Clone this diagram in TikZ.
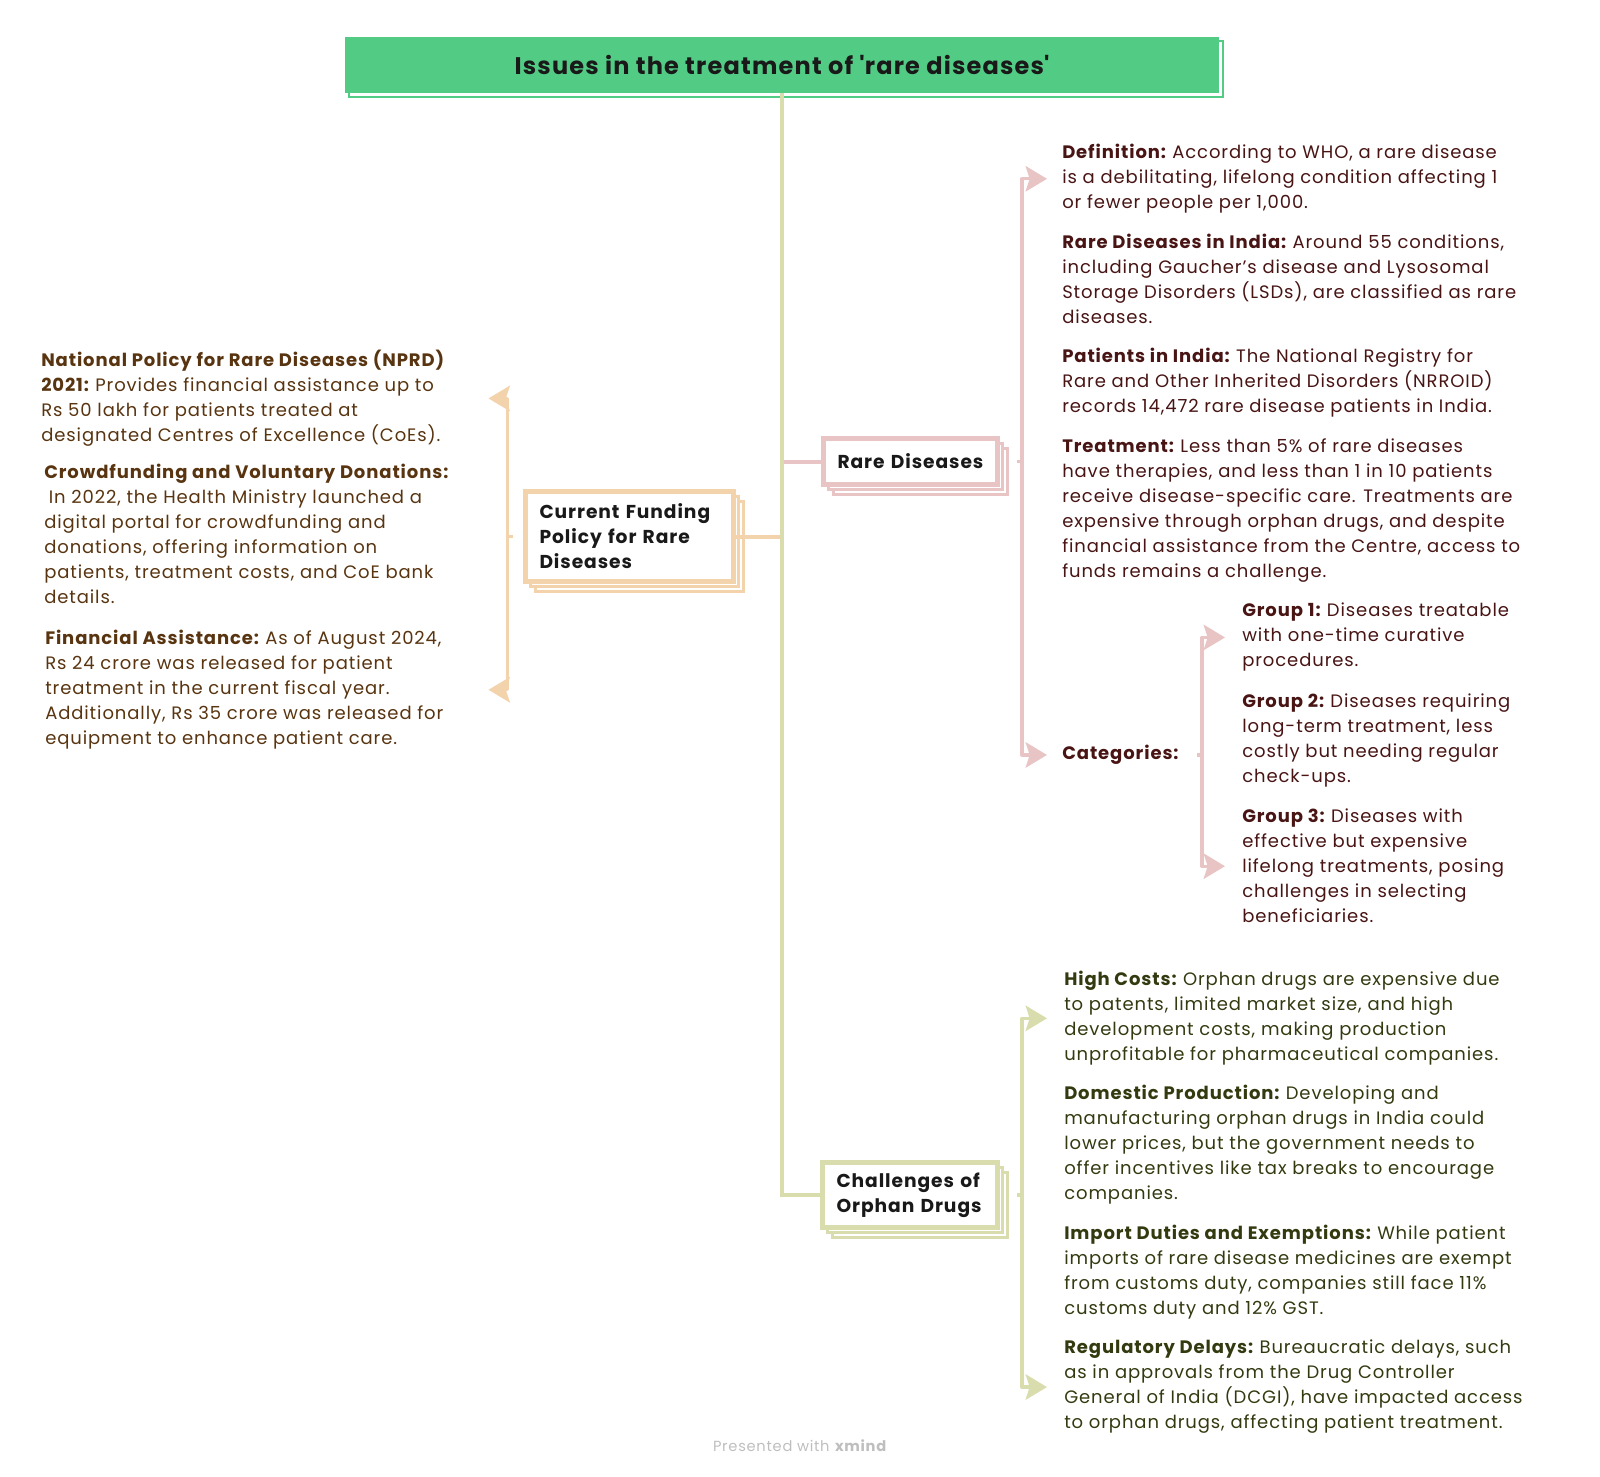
\documentclass[tikz,border=0pt]{standalone}
\usepackage{fontspec}
\setmainfont{Poppins}[LetterSpace=5]
\usetikzlibrary{arrows.meta,backgrounds}
\definecolor{titlegreen}{RGB}{82,204,132}
\definecolor{rarepink}{RGB}{232,196,196}
\definecolor{fundpeach}{RGB}{243,211,172}
\definecolor{drugolive}{RGB}{217,221,173}
\definecolor{raretext}{RGB}{72,20,20}
\definecolor{fundtext}{RGB}{88,52,16}
\definecolor{drugtext}{RGB}{52,58,16}
\definecolor{creditgray}{RGB}{190,190,190}
\newcommand{\itemhead}[1]{\textbf{#1}\kern-.12em\relax}

\begin{document}
\begin{tikzpicture}[x=0.75pt, y=-0.75pt,
    topic/.style={draw, line width=3.5pt, fill=white, outer sep=0pt, align=left, inner xsep=10.5pt, inner ysep=0pt, font=\fontsize{14}{18.75}\selectfont\bfseries, text=black!90},
    shade/.style={line width=2.6pt, fill=white},
    info/.style={anchor=north west, align=left, inner sep=0pt, font=\fontsize{13.5}{18.75}\selectfont},
    branch/.style={line width=3pt},
    bracket/.style={line width=2.5pt, line join=round, -{Stealth[length=16pt, width=19pt, inset=3pt]}}]
    \useasboundingbox (0,0) rectangle (1600,1477);

    \node[fill=titlegreen, outer sep=0pt, minimum width=655.5pt, minimum height=42pt, font=\fontsize{18}{22}\selectfont\bfseries, text=black!90] (title) at (782,65) {Issues in the treatment of \textquotesingle rare diseases\textquotesingle};

    \node[topic, draw=rarepink, minimum width=130.5pt, minimum height=34.5pt, text width=109.5pt] (rare) at (910.5,461.5) {Rare~Diseases};
    \node[topic, draw=fundpeach, minimum width=156pt, minimum height=67.5pt, text width=135pt] (fund) at (629.5,536.5) {Current~Funding\\Policy~for~Rare\\Diseases};
    \node[topic, draw=drugolive, minimum width=131.25pt, minimum height=48.75pt, text width=110.25pt] (chal) at (910,1195) {Challenges~of\\Orphan~Drugs};

    \begin{scope}[on background layer]
        \draw[titlegreen, line width=1pt] ([shift={(4,4)}]title.north west) rectangle ([shift={(4,4)}]title.south east);
        \foreach \n/\c in {rare/rarepink, fund/fundpeach, chal/drugolive}
            \foreach \d in {10,5}
                \draw[shade, draw=\c] ([shift={(\d,\d)}]\n.north west) rectangle ([shift={(\d,\d)}]\n.south east);
    \end{scope}

    \draw[branch, fundpeach] (title.south) |- (fund.east);
    \draw[branch, rarepink] (title.south) |- (rare.west);
    \draw[branch, drugolive] (title.south) |- (chal.west);

    \node[info, text=raretext] (def) at (1062,144) {\itemhead{Definition:} According to WHO, a rare disease\\is a debilitating, lifelong condition affecting 1\\or fewer people per 1,000.};
    \node[info, text=raretext] (rdi) at (1062,234) {\itemhead{Rare Diseases in India:} Around 55 conditions,\\including Gaucher’s disease and Lysosomal\\Storage Disorders (LSDs), are classified as rare\\diseases.};
    \node[info, text=raretext] (pat) at (1062,348) {\itemhead{Patients in India:} The National Registry for\\Rare and Other Inherited Disorders (NRROID)\\records 14,472 rare disease patients in India.};
    \node[info, text=raretext] (treat) at (1062,438) {\itemhead{Treatment:} Less than 5\% of rare diseases\\have therapies, and less than 1 in 10 patients\\receive disease-specific care. Treatments are\\expensive through orphan drugs, and despite\\financial assistance from the Centre, access to\\funds remains a challenge.};
    \node[info, text=raretext] (cat) at (1062,745) {\textbf{Categories:}};
    \node[info, text=raretext] (gone) at (1242,603) {\itemhead{Group 1:} Diseases treatable\\with one-time curative\\procedures.};
    \node[info, text=raretext] (gtwo) at (1242,694) {\itemhead{Group 2:} Diseases requiring\\long-term treatment, less\\costly but needing regular\\check-ups.};
    \node[info, text=raretext] (gthree) at (1242,809) {\itemhead{Group 3:} Diseases with\\effective but expensive\\lifelong treatments, posing\\challenges in selecting\\beneficiaries.};

    \node[info, text=fundtext] (nprd) at (41,350) {\textbf{National Policy for Rare Diseases (NPRD)}\\\itemhead{2021:} Provides financial assistance up to\\Rs 50 lakh for patients treated at\\designated Centres of Excellence (CoEs).};
    \node[info, text=fundtext] (crowd) at (44,464) {\textbf{Crowdfunding and Voluntary Donations:}\\\hspace*{.25em}In 2022, the Health Ministry launched a\\digital portal for crowdfunding and\\donations, offering information on\\patients, treatment costs, and CoE bank\\details.};
    \node[info, text=fundtext] (finance) at (45,630) {\itemhead{Financial Assistance:} As of August 2024,\\Rs 24 crore was released for patient\\treatment in the current fiscal year.\\Additionally, Rs 35 crore was released for\\equipment to enhance patient care.};

    \node[info, text=drugtext] (high) at (1064,971) {\itemhead{High Costs:} Orphan drugs are expensive due\\to patents, limited market size, and high\\development costs, making production\\unprofitable for pharmaceutical companies.};
    \node[info, text=drugtext] (domestic) at (1064,1085) {\itemhead{Domestic Production:} Developing and\\manufacturing orphan drugs in India could\\lower prices, but the government needs to\\offer incentives like tax breaks to encourage\\companies.};
    \node[info, text=drugtext] (import) at (1064,1225) {\itemhead{Import Duties and Exemptions:} While patient\\imports of rare disease medicines are exempt\\from customs duty, companies still face 11\%\\customs duty and 12\% GST.};
    \node[info, text=drugtext] (regul) at (1064,1340) {\itemhead{Regulatory Delays:} Bureaucratic delays, such\\as in approvals from the Drug Controller\\General of India (DCGI), have impacted access\\to orphan drugs, affecting patient treatment.};

    \coordinate (rdfork) at ([shift={(-40,0)}]def.west |- rare.east);
    \draw[bracket, rarepink] (rdfork) |- ([shift={(25,0)}]rdfork |- def.west);
    \draw[bracket, rarepink] (rdfork) |- ([shift={(25,0)}]rdfork |- cat.west);
    \draw[line width=2.5pt, rarepink] (rdfork) -- ++(-5,0);

    \coordinate (catfork) at ([shift={(-40,0)}]gone.west |- cat.east);
    \draw[bracket, rarepink] (catfork) |- ([shift={(23,0)}]catfork |- gone.west);
    \draw[bracket, rarepink] (catfork) |- ([shift={(23,0)}]catfork |- gthree.west);
    \draw[line width=2.5pt, rarepink] (catfork) -- ++(-5,0);

    \coordinate (fdfork) at ([shift={(-18,0)}]fund.west);
    \draw[bracket, fundpeach] (fdfork) |- ([shift={(-19,0)}]fdfork |- nprd.east);
    \draw[bracket, fundpeach] (fdfork) |- ([shift={(-19,0)}]fdfork |- finance.east);
    \draw[line width=2.5pt, fundpeach] (fdfork) -- ++(5,0);

    \coordinate (cdfork) at ([shift={(-42,0)}]high.west |- chal.east);
    \draw[bracket, drugolive] (cdfork) |- ([shift={(25,0)}]cdfork |- high.west);
    \draw[bracket, drugolive] (cdfork) |- ([shift={(25,0)}]cdfork |- regul.west);
    \draw[line width=2.5pt, drugolive] (cdfork) -- ++(-5,0);

    \node[text=creditgray, font=\fontsize{11}{13}\selectfont] (credit) at (800,1446) {Presented with \textbf{xmind}};
\end{tikzpicture}
\end{document}
